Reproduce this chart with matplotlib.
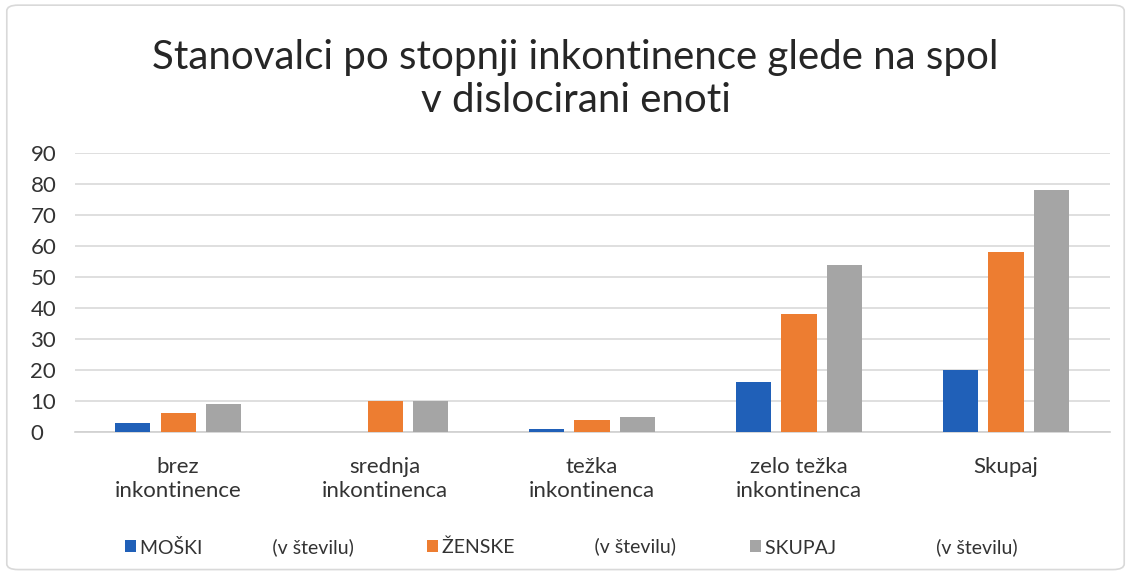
import numpy as np
import matplotlib.pyplot as plt
from matplotlib.patches import FancyBboxPatch

categories = ["brez\ninkontinence", "srednja\ninkontinenca", "težka\ninkontinenca",
              "zelo težka\ninkontinenca", "Skupaj"]
moski = [3, 0, 1, 16, 20]
zenske = [6, 10, 4, 38, 58]
skupaj = [9, 10, 5, 54, 78]
series_labels = ["MOŠKI" + " " * 14 + "(v številu)",
                 "ŽENSKE" + " " * 16 + "(v številu)",
                 "SKUPAJ" + " " * 20 + "(v številu)"]
colors = ["#2060B8", "#ED7D31", "#A5A5A5"]

plt.rcParams['font.family'] = ['Lato', 'DejaVu Sans']

fig = plt.figure(figsize=(11.31, 5.73), dpi=100)
ax = fig.add_axes([0.066, 0.246, 0.915, 0.487])

x = np.arange(len(categories))
w = 0.17
step = 0.22
for i, (vals, lab, c) in enumerate(zip([moski, zenske, skupaj], series_labels, colors)):
    ax.bar(x + (i - 1) * step, vals, width=w, color=c, label=lab, zorder=3)

ax.set_xlim(-0.5, len(categories) - 0.5)
ax.set_ylim(0, 90)
ax.set_yticks(range(0, 91, 10))
ax.yaxis.grid(True, color="#D9D9D9", linewidth=1.2, zorder=0)
ax.set_xticks(x)
ax.set_xticklabels(categories, fontsize=16, color="#333333", linespacing=1.25)
ax.tick_params(axis="y", labelsize=16, labelcolor="#333333", length=0)
ax.tick_params(axis="x", length=0, pad=18)
for s in ["top", "right", "left"]:
    ax.spines[s].set_visible(False)
ax.spines["bottom"].set_color("#D0D0D0")
ax.spines["bottom"].set_linewidth(1.2)
for t in ax.get_yticklabels():
    t.set_horizontalalignment("left")
    t.set_x(-0.038)

fig.text(0.509, 0.862, "Stanovalci po stopnji inkontinence glede na spol\nv dislocirani enoti",
         ha="center", va="center", fontsize=29, color="#262626", linespacing=1.2)

fig.legend(loc="center", bbox_to_anchor=(0.505, 0.048), ncol=3, frameon=False,
           fontsize=14, handlelength=0.55, handleheight=0.55, handletextpad=0.2,
           columnspacing=3.8, labelcolor="#333333")

border = FancyBboxPatch((0.006, 0.006), 0.988, 0.985, boxstyle="round,pad=0,rounding_size=0.01",
                        transform=fig.transFigure, fill=False, edgecolor="#D9D9D9", linewidth=1.2)
fig.patches.append(border)

fig.savefig("out.png", dpi=100)
